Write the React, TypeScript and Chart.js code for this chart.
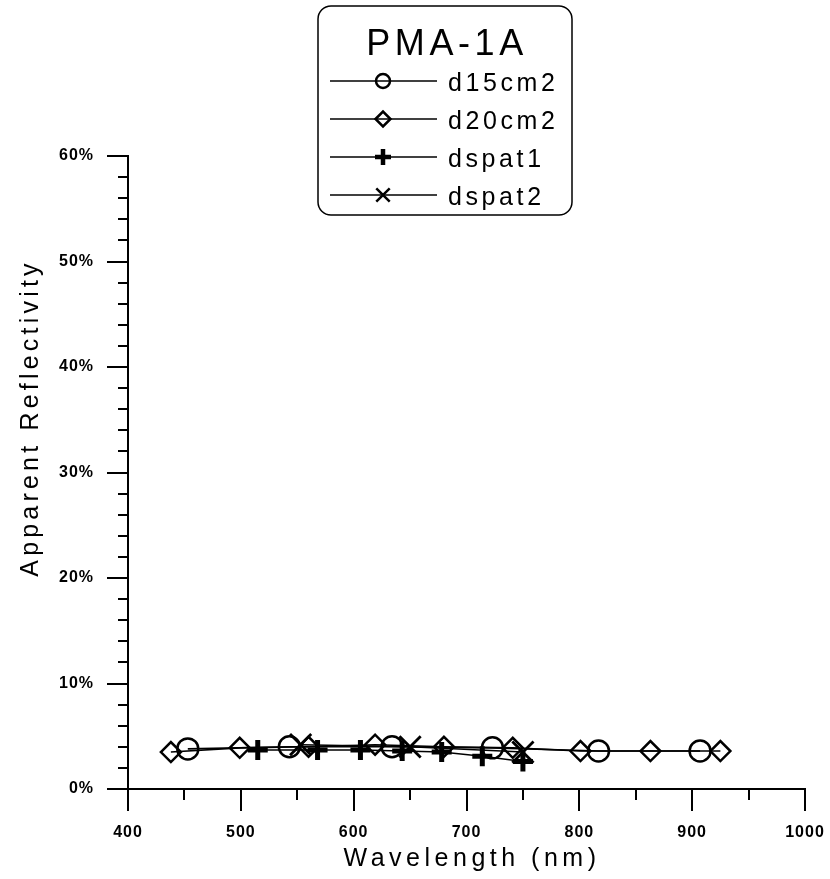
import React, { useEffect, useRef } from 'react';
import { Chart, registerables } from 'chart.js';

Chart.register(...registerables);

// ---------- data ----------
const X_MIN = 400;
const X_MAX = 1000;
const X_STEP = 100;
const X_MINOR = 50;
const Y_MIN = 0;
const Y_MAX = 60;
const Y_STEP = 10;
const Y_MINOR = 2;

const legendTitle = 'PMA-1A';
const xTitle = 'Wavelength (nm)';
const yTitle = 'Apparent Reflectivity';

const seriesLabels = ['d15cm2', 'd20cm2', 'dspat1', 'dspat2'];

const d15cm2X = [453, 543, 634, 723, 817, 907];
const d15cm2Y = [3.8, 4.0, 4.0, 3.9, 3.6, 3.6];

const d20cm2X = [438, 499, 560, 619, 680, 741, 801, 863, 925];
const d20cm2Y = [3.5, 3.9, 4.0, 4.2, 4.0, 3.9, 3.6, 3.6, 3.6];

const dspat1X = [515, 568, 606, 643, 678, 714, 750];
const dspat1Y = [3.7, 3.7, 3.7, 3.6, 3.5, 3.1, 2.6];

const dspat2X = [553, 650, 750];
const dspat2Y = [4.2, 4.0, 3.5];

// ---------- styles ----------
const FONT = '"Liberation Sans", Arial, Helvetica, sans-serif';
const INK = '#000000';

type MarkerStyle = 'circle' | 'rectRot' | 'cross' | 'crossRot';

const markerStyles: MarkerStyle[] = ['circle', 'rectRot', 'cross', 'crossRot'];
const markerRadius = [10.5, 10, 10, 15];
const markerWidth = [2.5, 2.5, 5, 2.8];
const legendMarkerRadius = [7, 7.5, 8, 9.5];
const legendMarkerWidth = [2.5, 2.5, 4.5, 2.5];

const seriesX = [d15cm2X, d20cm2X, dspat1X, dspat2X];
const seriesY = [d15cm2Y, d20cm2Y, dspat1Y, dspat2Y];

function drawMarker(ctx: CanvasRenderingContext2D, style: MarkerStyle, x: number, y: number, r: number, lw: number) {
  ctx.beginPath();
  ctx.lineWidth = lw;
  if (style === 'circle') {
    ctx.arc(x, y, r, 0, Math.PI * 2);
  } else if (style === 'rectRot') {
    ctx.moveTo(x - r, y);
    ctx.lineTo(x, y - r);
    ctx.lineTo(x + r, y);
    ctx.lineTo(x, y + r);
    ctx.closePath();
  } else if (style === 'cross') {
    ctx.moveTo(x - r, y);
    ctx.lineTo(x + r, y);
    ctx.moveTo(x, y - r);
    ctx.lineTo(x, y + r);
  } else {
    const d = r * Math.SQRT1_2;
    ctx.moveTo(x - d, y - d);
    ctx.lineTo(x + d, y + d);
    ctx.moveTo(x - d, y + d);
    ctx.lineTo(x + d, y - d);
  }
  ctx.stroke();
}

const decorPlugin = {
  id: 'decor',
  beforeDraw(chart: any) {
    (chart.ctx as any).letterSpacing = '1px';
  },
  afterDraw(chart: any) {
    const ctx: CanvasRenderingContext2D = chart.ctx;
    const xs = chart.scales.x;
    const ys = chart.scales.y;
    const area = chart.chartArea;
    ctx.save();
    ctx.strokeStyle = INK;
    ctx.fillStyle = INK;
    ctx.lineCap = 'butt';

    // minor ticks
    ctx.lineWidth = 2;
    ctx.beginPath();
    for (let v = Y_MIN + Y_MINOR; v < Y_MAX; v += Y_MINOR) {
      if (v % Y_STEP === 0) continue;
      const py = Math.round(ys.getPixelForValue(v));
      ctx.moveTo(area.left - 10, py);
      ctx.lineTo(area.left, py);
    }
    for (let v = X_MIN + X_MINOR; v < X_MAX; v += X_MINOR) {
      if (v % X_STEP === 0) continue;
      const px = Math.round(xs.getPixelForValue(v));
      ctx.moveTo(px, area.bottom);
      ctx.lineTo(px, area.bottom + 11);
    }
    ctx.stroke();

    // axis titles
    (ctx as any).letterSpacing = '4.5px';
    ctx.font = `25px ${FONT}`;
    ctx.textAlign = 'center';
    ctx.textBaseline = 'alphabetic';
    ctx.fillText(xTitle, 472, 866);

    ctx.save();
    ctx.translate(38, 420);
    ctx.rotate(-Math.PI / 2);
    (ctx as any).letterSpacing = '4.2px';
    ctx.fillText(yTitle, 2, 0);
    ctx.restore();

    // legend box
    const bx = 318, by = 6, bw = 254, bh = 209;
    ctx.beginPath();
    (ctx as any).roundRect(bx, by, bw, bh, 13);
    ctx.lineWidth = 1.5;
    ctx.stroke();

    (ctx as any).letterSpacing = '4.6px';
    ctx.font = `36px ${FONT}`;
    ctx.textAlign = 'center';
    ctx.fillText(legendTitle, bx + bw / 2 + 2, 55);

    (ctx as any).letterSpacing = '3.6px';
    ctx.font = `25px ${FONT}`;
    ctx.textAlign = 'left';
    const rowY0 = 81;
    const rowGap = 38;
    seriesLabels.forEach((label, i) => {
      const ry = rowY0 + i * rowGap;
      ctx.beginPath();
      ctx.lineWidth = 1.5;
      ctx.moveTo(330, ry);
      ctx.lineTo(437, ry);
      ctx.stroke();
      drawMarker(ctx, markerStyles[i], 383, ry, legendMarkerRadius[i], legendMarkerWidth[i]);
      ctx.fillText(label, 448, ry + 10);
    });

    (ctx as any).letterSpacing = '0px';
    ctx.restore();
  },
};

export default function App() {
  const canvasRef = useRef<HTMLCanvasElement | null>(null);

  useEffect(() => {
    const canvas = canvasRef.current;
    if (!canvas) return;

    const datasets = seriesLabels.map((label, i) => ({
      label,
      data: seriesX[i].map((x, j) => ({ x, y: seriesY[i][j] })),
      showLine: true,
      borderColor: INK,
      borderWidth: 1.6,
      backgroundColor: 'rgba(0,0,0,0)',
      pointStyle: markerStyles[i],
      pointRadius: markerRadius[i],
      pointBorderWidth: markerWidth[i],
      pointBorderColor: INK,
      pointBackgroundColor: 'rgba(0,0,0,0)',
      pointHoverRadius: markerRadius[i],
      tension: 0,
    }));

    const chart = new Chart(canvas, {
      type: 'scatter',
      data: { datasets },
      options: {
        animation: false,
        responsive: false,
        events: [],
        layout: { padding: { top: 156, right: 25, left: 0, bottom: 0 } },
        plugins: {
          legend: { display: false },
          tooltip: { enabled: false },
          title: { display: false },
        },
        scales: {
          x: {
            type: 'linear',
            min: X_MIN,
            max: X_MAX,
            afterFit: (s: any) => {
              s.height = 90;
              s.paddingLeft = 0;
              s.paddingRight = 0;
            },
            grid: {
              display: true,
              drawOnChartArea: false,
              drawTicks: true,
              tickLength: 22,
              color: INK,
              lineWidth: 2,
            },
            border: { display: true, color: INK, width: 2 },
            ticks: {
              stepSize: X_STEP,
              padding: 12,
              color: INK,
              maxRotation: 0,
              autoSkip: false,
              font: { family: FONT, size: 16, weight: 'bold' },
              callback: (v: any) => String(v),
            },
          },
          y: {
            type: 'linear',
            min: Y_MIN,
            max: Y_MAX,
            afterFit: (s: any) => {
              s.width = 128;
              s.paddingTop = 0;
              s.paddingBottom = 0;
            },
            grid: {
              display: true,
              drawOnChartArea: false,
              drawTicks: true,
              tickLength: 21,
              color: INK,
              lineWidth: 2,
            },
            border: { display: true, color: INK, width: 2 },
            ticks: {
              stepSize: Y_STEP,
              padding: 13,
              color: INK,
              autoSkip: false,
              font: { family: FONT, size: 16, weight: 'bold' },
              callback: (v: any) => `${v}%`,
            },
          },
        },
      },
      plugins: [decorPlugin],
    } as any);

    return () => chart.destroy();
  }, []);

  return (
    <div style={{ position: 'fixed', left: 0, top: 0, width: 830, height: 879, background: '#fff' }}>
      <canvas ref={canvasRef} width={830} height={879} style={{ display: 'block', width: 830, height: 879 }} />
    </div>
  );
}
